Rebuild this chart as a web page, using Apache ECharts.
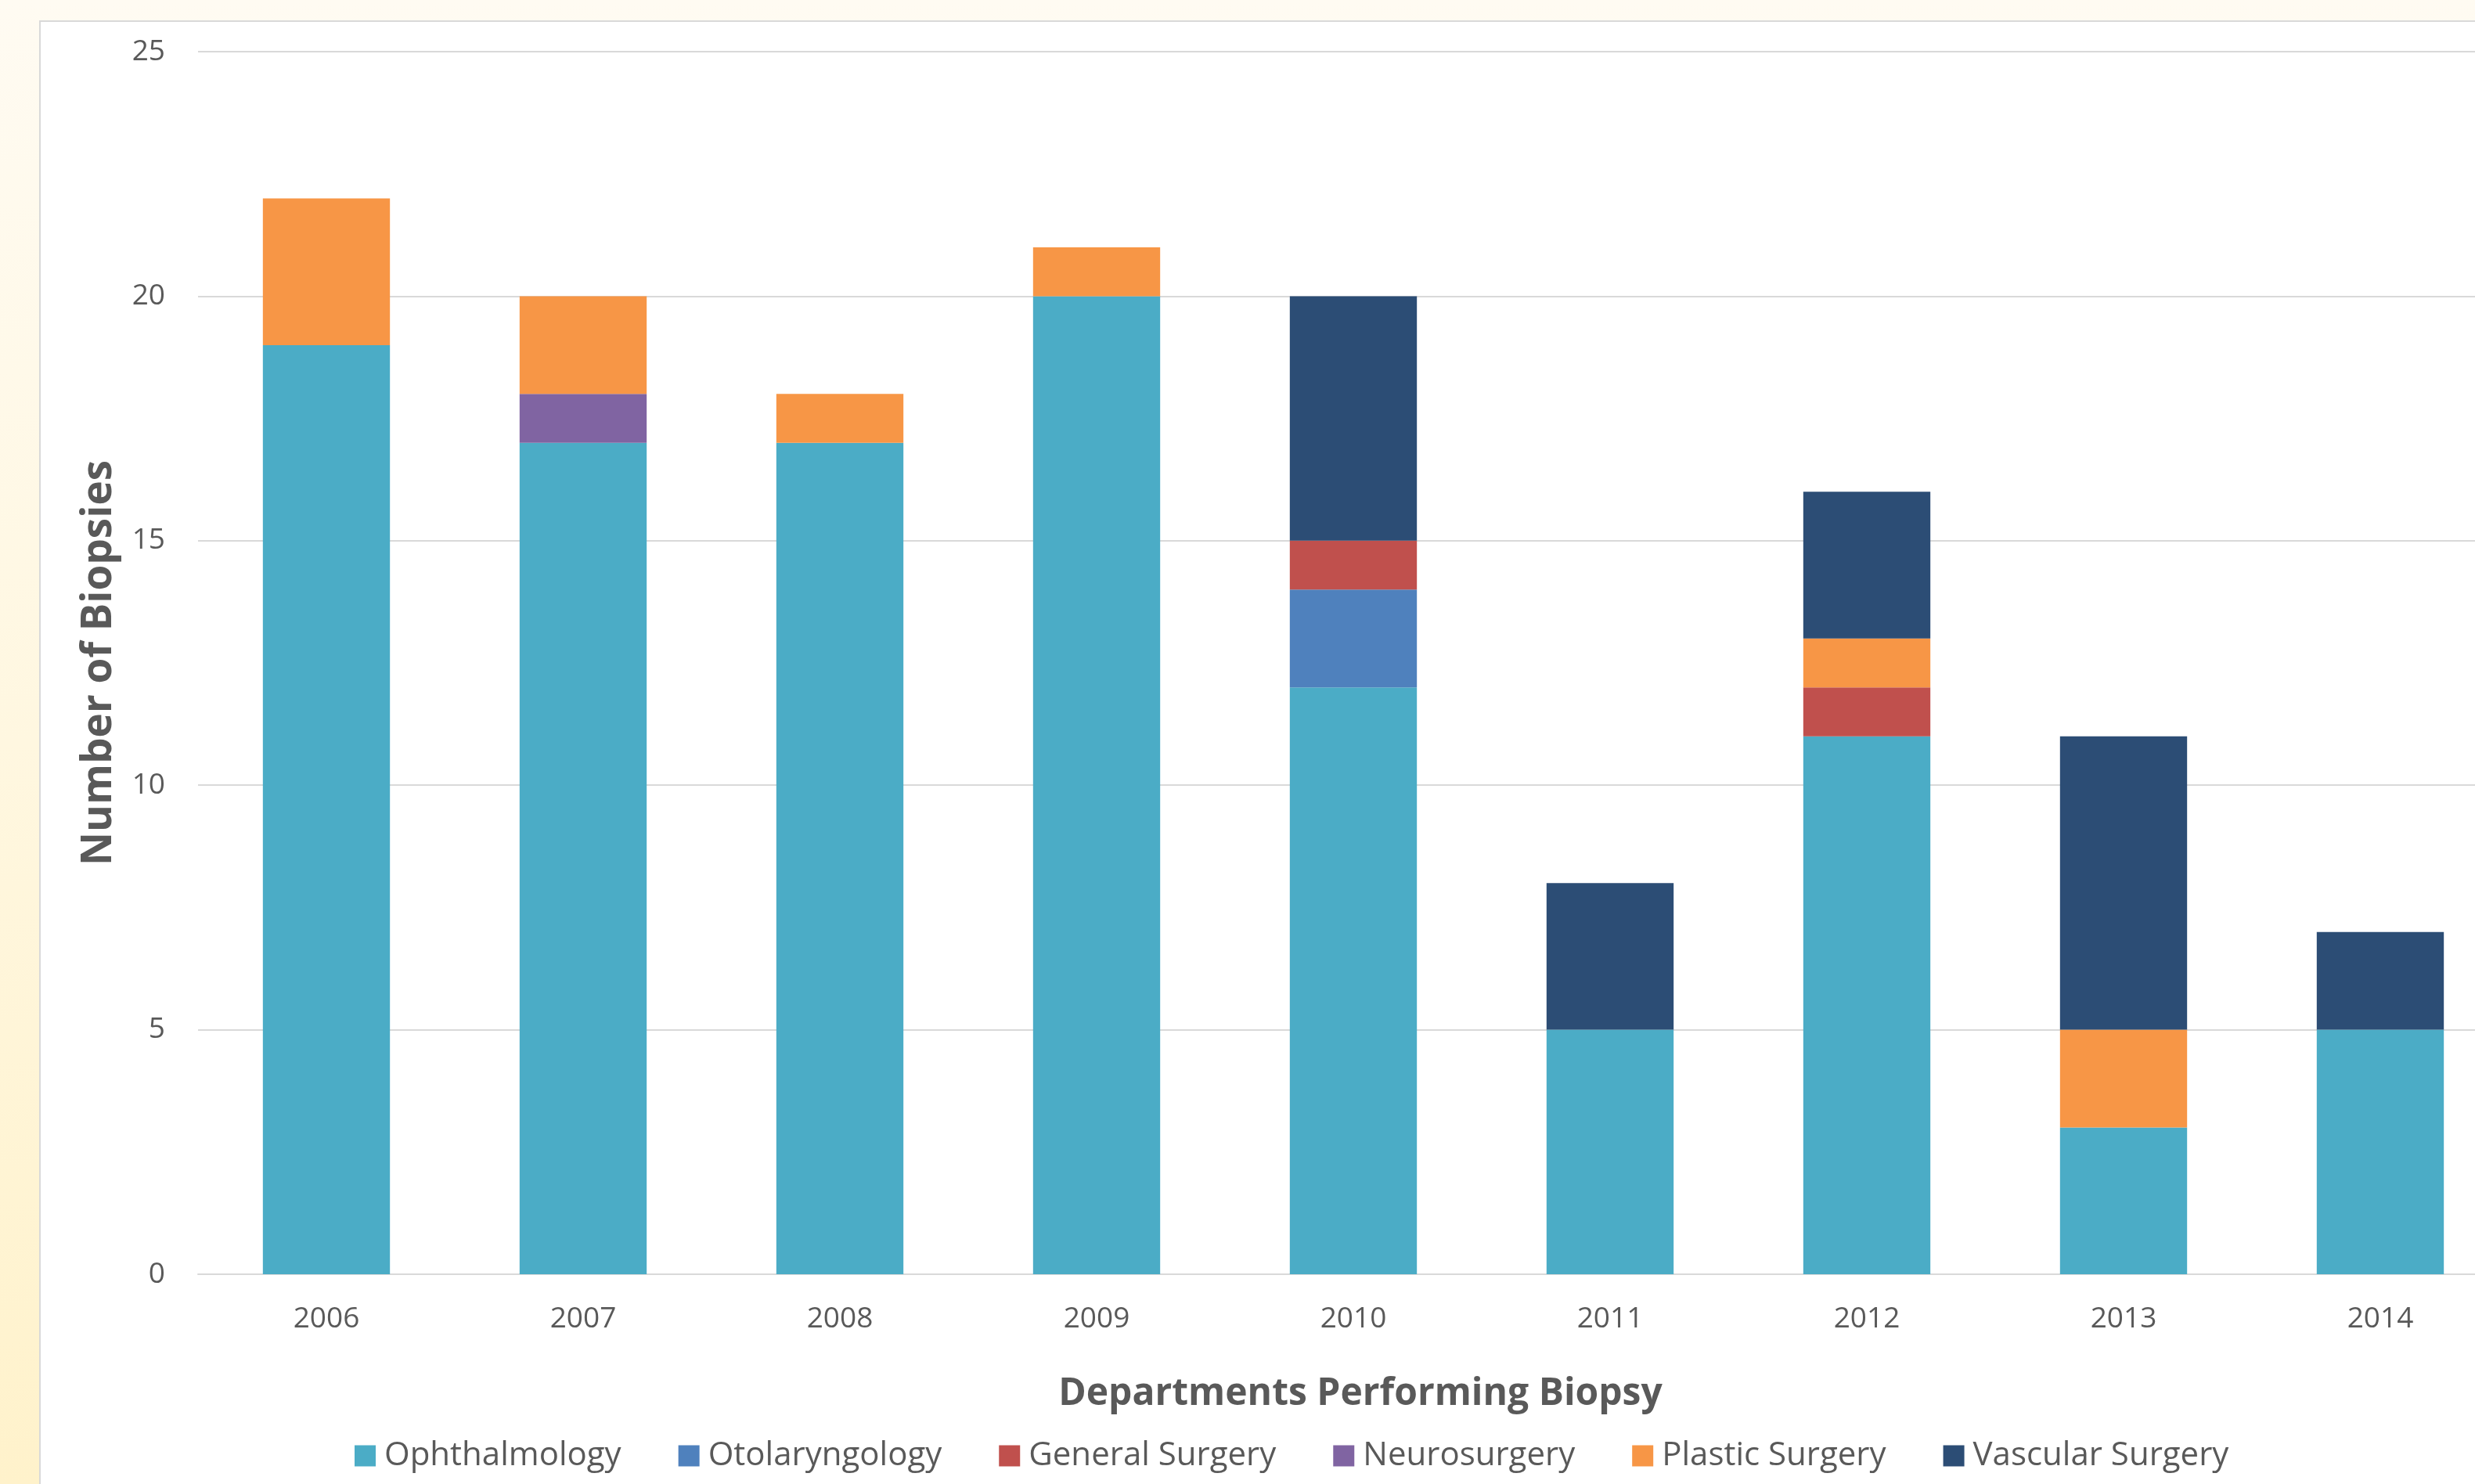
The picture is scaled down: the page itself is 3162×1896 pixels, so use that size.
<!DOCTYPE html>
<html>
<head>
<meta charset="utf-8">
<script src="https://cdn.jsdelivr.net/npm/echarts@6/dist/echarts.min.js"></script>
<style>
html,body{margin:0;padding:0;width:3162px;height:1896px;overflow:hidden;}
body{background:linear-gradient(to bottom,#fffbf2 0%,#fff7e0 50%,#fff2cb 100%);position:relative;}
#panel{position:absolute;left:50px;top:26px;width:3200px;height:1900px;background:#fff;border:2px solid #d9d9d9;box-sizing:border-box;}
#chart{position:absolute;left:0;top:0;width:3300px;height:1896px;}
</style>
</head>
<body>
<div id="panel"></div>
<div id="chart"></div>
<script>
var years = ['2006','2007','2008','2009','2010','2011','2012','2013','2014'];
var ophthalmology  = [19,17,17,20,12,5,11,3,5];
var otolaryngology = [0,0,0,0,2,0,0,0,0];
var generalSurgery = [0,0,0,0,1,0,1,0,0];
var neurosurgery   = [0,1,0,0,0,0,0,0,0];
var plasticSurgery = [3,2,1,1,0,0,1,2,0];
var vascularSurgery= [0,0,0,0,5,3,3,6,2];
var seriesNames = ['Ophthalmology','Otolaryngology','General Surgery','Neurosurgery','Plastic Surgery','Vascular Surgery'];
var seriesColors = ['#4bacc6','#4f81bd','#c0504d','#8064a2','#f79646','#2c4d75'];
var seriesData = [ophthalmology,otolaryngology,generalSurgery,neurosurgery,plasticSurgery,vascularSurgery];

var chart = echarts.init(document.getElementById('chart'), null, {renderer:'canvas'});
var font = '"Open Sans", "Noto Sans", sans-serif';
chart.setOption({
  backgroundColor: 'transparent',
  animation: false,
  textStyle: {fontFamily: font},
  grid: {left: 253, top: 66, width: 2952, height: 1562, containLabel: false},
  legend: {
    left: 448, top: 1834,
    itemWidth: 27, itemHeight: 27, itemGap: 73,
    icon: 'rect',
    textStyle: {fontFamily: font, fontSize: 42, color: '#595959', padding: [0,0,0,6]},
    data: seriesNames
  },
  xAxis: {
    type: 'category', data: years,
    name: 'Departments Performing Biopsy', nameLocation: 'middle', nameGap: 129,
    nameTextStyle: {fontFamily: font, fontSize: 48, fontWeight: 'bold', color: '#595959', padding:[0,0,0,18]},
    axisLine: {show: true, lineStyle: {color: '#d9d9d9', width: 2}},
    axisTick: {show: false},
    axisLabel: {fontFamily: font, fontSize: 37, color: '#595959', margin: 39}
  },
  yAxis: {
    type: 'value', min: 0, max: 25, interval: 5,
    name: 'Number of Biopsies', nameLocation: 'middle', nameGap: 100, nameRotate: 90,
    nameTextStyle: {fontFamily: font, fontSize: 53, fontWeight: 'bold', color: '#595959'},
    axisLine: {show: false}, axisTick: {show: false},
    axisLabel: {fontFamily: font, fontSize: 37, color: '#595959', margin: 42},
    splitLine: {lineStyle: {color: '#d9d9d9', width: 2}}
  },
  series: seriesNames.map(function(n,i){
    return {name: n, type: 'bar', stack: 'total', data: seriesData[i], barWidth: '49.5%',
      itemStyle: {color: seriesColors[i]}};
  })
});
</script>
</body>
</html>
